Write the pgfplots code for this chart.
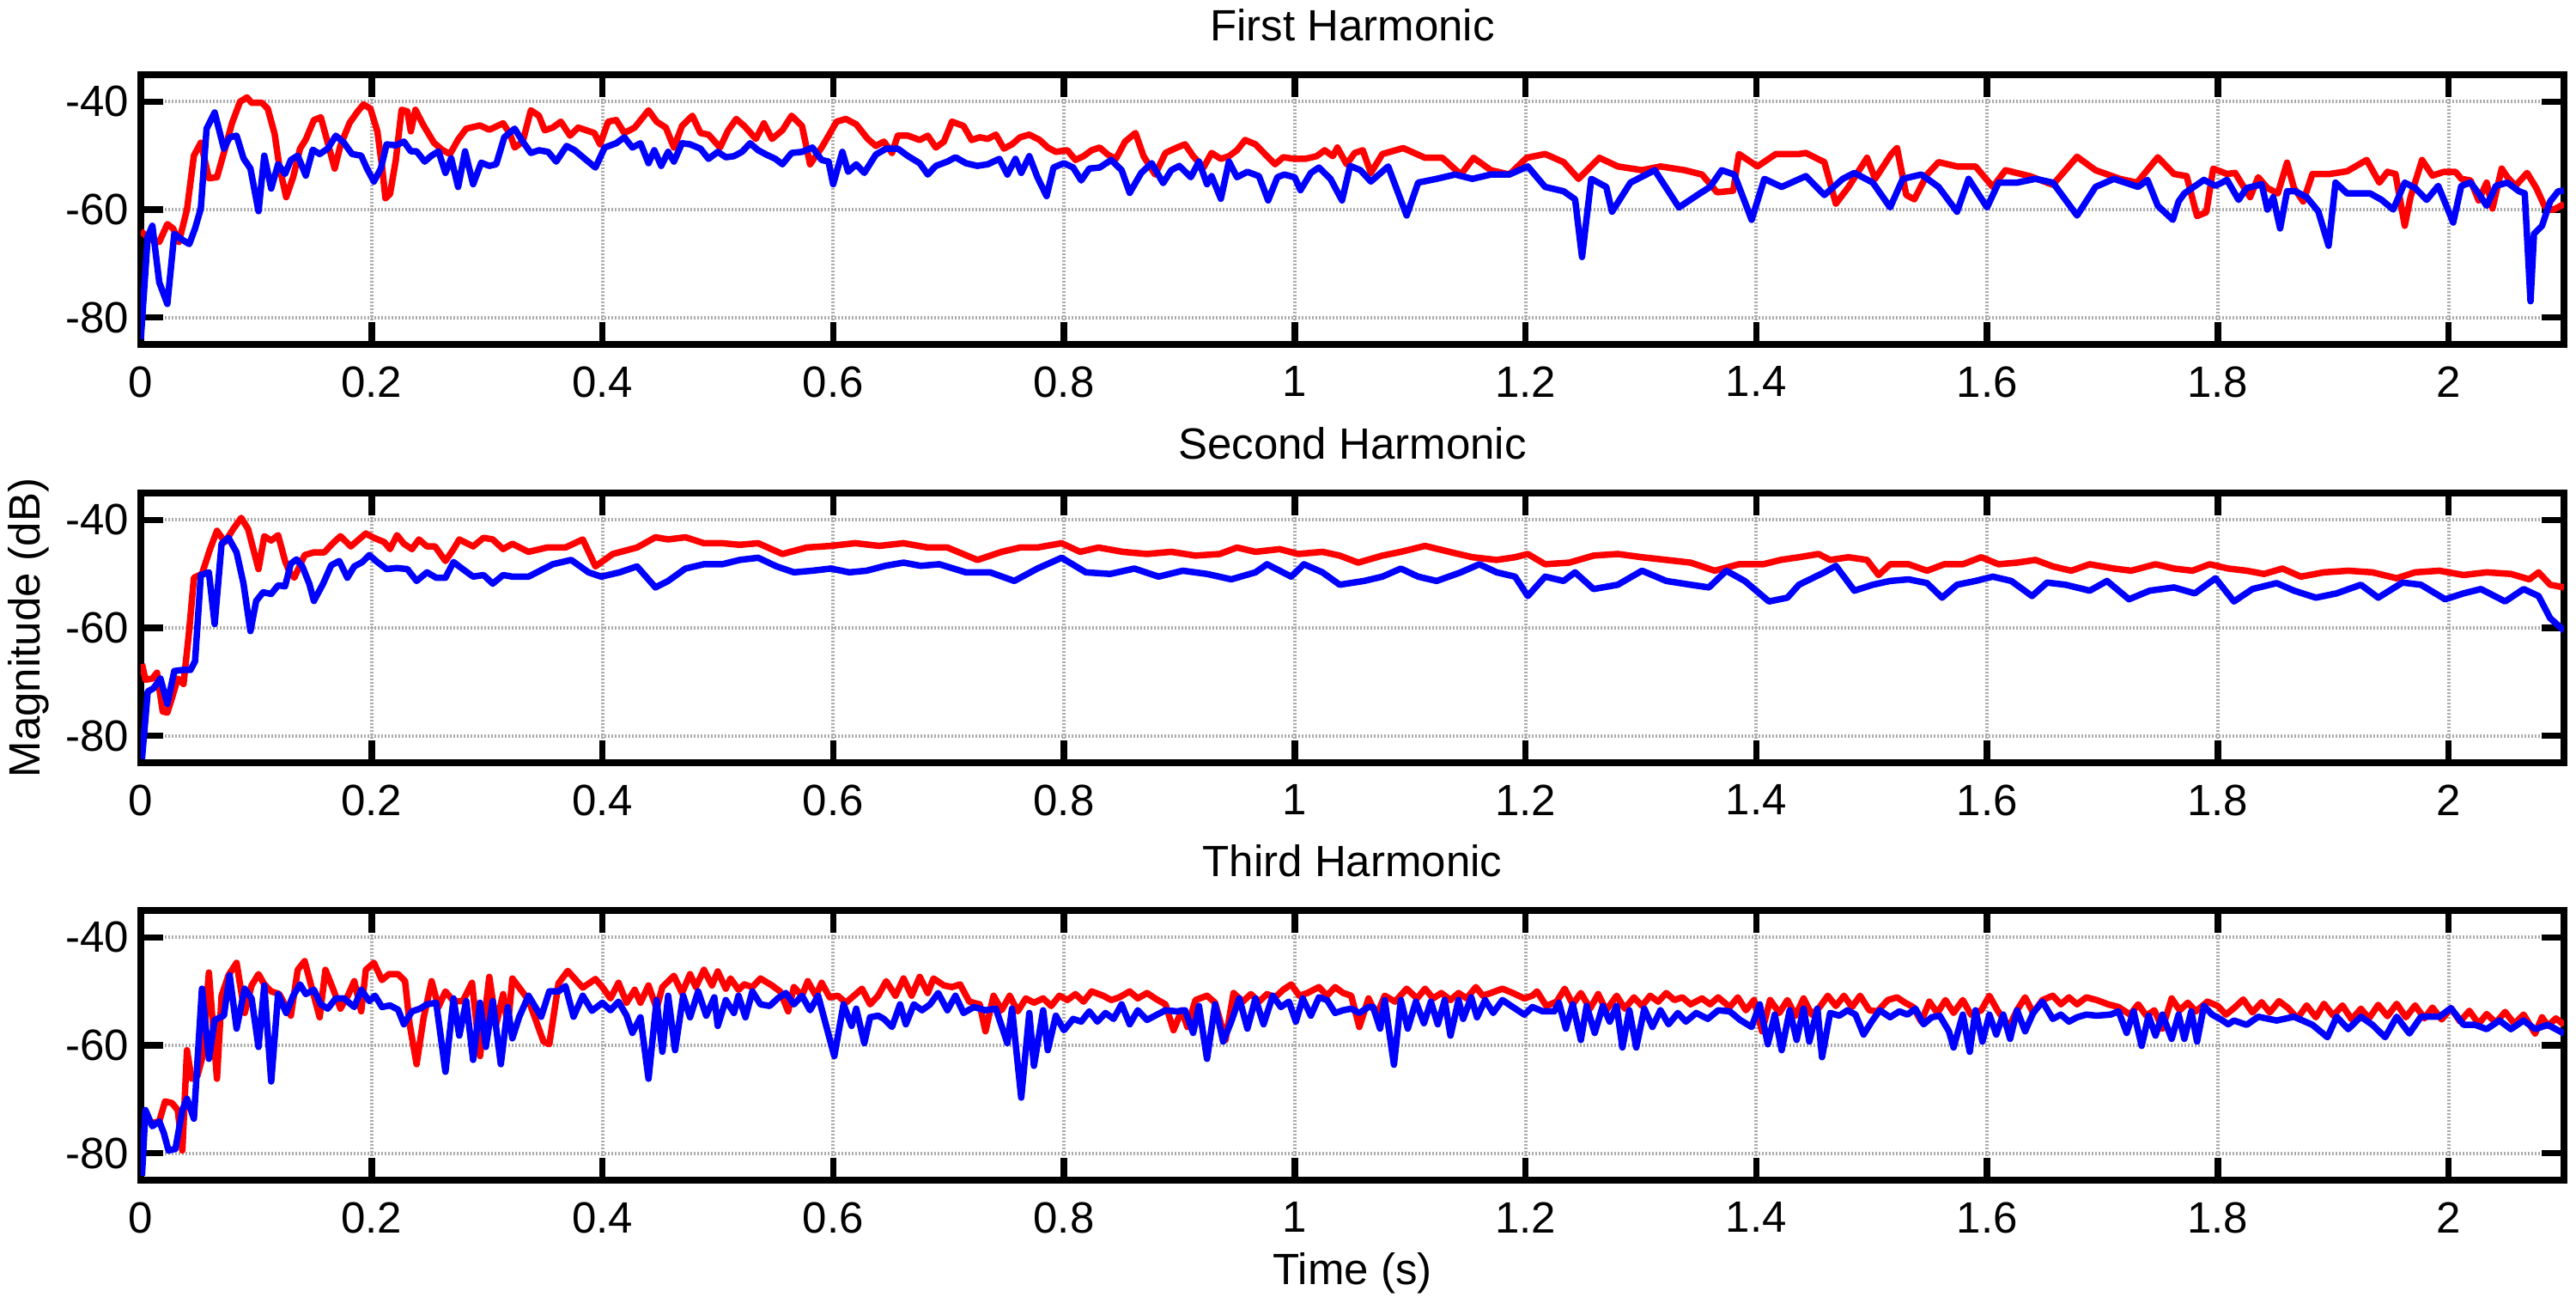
\documentclass[border=0pt]{standalone}
\usepackage{pgfplots}
\pgfplotsset{compat=1.18}
\usepackage{fontspec}
\setmainfont{Liberation Sans}
\definecolor{mred}{RGB}{255,0,0}
\definecolor{mblue}{RGB}{0,0,255}
\pgfplotsset{
  hstyle/.style={
    scale only axis, width=564.4pt, height=62.8pt,
    xmin=0, xmax=2.1, ymin=-85, ymax=-35,
    xtick={0,0.2,0.4,0.6,0.8,1,1.2,1.4,1.6,1.8,2},
    xticklabels={0,0.2,0.4,0.6,0.8,1,1.2,1.4,1.6,1.8,2},
    ytick={-80,-60,-40}, yticklabels={-80,-60,-40},
    tick align=inside, xtick pos=both, ytick pos=both,
    major tick length=5.2pt,
    every tick/.append style={black, line width=1.5pt},
    axis line style={black, line width=1.6pt},
    grid=major,
    major grid style={draw=gray!65, line width=0.8pt, dash pattern=on 0.35pt off 0.45pt},
    tick label style={font=\fontsize{10.2}{12}\selectfont},
    xticklabel style={yshift=-1.6pt},
    yticklabel style={xshift=0.8pt},
    every axis title shift=0pt,
    title style={at={(axis description cs:0.5,1.1258)}, anchor=base, font=\fontsize{10.2}{12}\selectfont},
    label style={font=\fontsize{10.2}{12}\selectfont},
    every axis plot/.append style={line width=1.5pt, line join=round},
  }
}
\begin{document}
\begin{tikzpicture}
\useasboundingbox (0,0) rectangle (600pt,303.2pt);
% ---------------- Panel 1
\begin{axis}[hstyle, at={(32.8pt,223pt)}, anchor=south west, title={First Harmonic}]
\addplot[mred] coordinates {(0,-64)(0.008,-65.5)(0.016,-66)(0.023,-62.7)(0.028,-63.5)(0.033,-66)(0.04,-60)(0.046,-50)(0.052,-47.6)(0.059,-54.2)(0.066,-54)(0.073,-48.7)(0.079,-44)(0.086,-40)(0.092,-39.2)(0.096,-40.2)(0.105,-40.2)(0.11,-41.3)(0.116,-46)(0.12,-51.9)(0.126,-57.7)(0.132,-54)(0.138,-48.7)(0.143,-47)(0.15,-43.4)(0.156,-42.9)(0.162,-47.6)(0.168,-52.4)(0.173,-48.1)(0.181,-43.9)(0.188,-41.8)(0.193,-40.5)(0.199,-41.3)(0.205,-45.5)(0.209,-51.9)(0.212,-57.9)(0.216,-57.1)(0.221,-50.8)(0.226,-41.5)(0.231,-41.8)(0.234,-45.5)(0.238,-41.5)(0.245,-44.4)(0.254,-47.6)(0.261,-48.9)(0.268,-49.7)(0.275,-47)(0.282,-45)(0.288,-44.7)(0.294,-44.4)(0.302,-45.2)(0.308,-44.6)(0.314,-44)(0.32,-46)(0.324,-48.5)(0.331,-47.4)(0.338,-41.6)(0.345,-42.6)(0.35,-45.3)(0.357,-44.8)(0.364,-43.7)(0.372,-46.3)(0.379,-44.8)(0.386,-45.3)(0.393,-45.8)(0.398,-47.9)(0.405,-43.7)(0.412,-43.4)(0.419,-45.8)(0.428,-44.8)(0.44,-41.6)(0.447,-43.7)(0.455,-44.8)(0.462,-48.5)(0.469,-44.5)(0.478,-42.6)(0.485,-45.8)(0.492,-46.1)(0.502,-48.5)(0.509,-45.3)(0.516,-43.2)(0.523,-44.5)(0.533,-46.9)(0.54,-44)(0.547,-46.9)(0.556,-45.3)(0.564,-42.6)(0.573,-44.5)(0.58,-51.6)(0.59,-48.5)(0.596,-46.3)(0.603,-43.7)(0.611,-43.2)(0.62,-44.2)(0.63,-46.9)(0.637,-48.2)(0.644,-47.4)(0.651,-49.5)(0.656,-46.3)(0.665,-46.3)(0.675,-47.1)(0.682,-46.3)(0.689,-48.5)(0.696,-47.4)(0.703,-43.7)(0.713,-44.5)(0.72,-47.1)(0.727,-46.6)(0.734,-46.9)(0.741,-46.1)(0.748,-48.7)(0.755,-47.9)(0.762,-46.6)(0.77,-46.1)(0.779,-47.1)(0.786,-48.5)(0.793,-49.3)(0.803,-49)(0.81,-50.8)(0.817,-50.1)(0.824,-49)(0.831,-48.5)(0.838,-49.8)(0.845,-50.6)(0.853,-47.4)(0.862,-45.8)(0.869,-50.1)(0.879,-53.5)(0.888,-49.5)(0.898,-48.5)(0.905,-47.9)(0.912,-50.1)(0.921,-52.2)(0.928,-49.5)(0.936,-50.6)(0.943,-50.1)(0.95,-49)(0.957,-47.1)(0.966,-47.9)(0.976,-50.1)(0.983,-51.6)(0.99,-50.3)(1,-50.6)(1.009,-50.6)(1.019,-50.1)(1.026,-49)(1.033,-50.1)(1.037,-48.5)(1.045,-51.6)(1.052,-49.5)(1.059,-49)(1.066,-53.2)(1.076,-49.7)(1.094,-48.6)(1.113,-50.4)(1.128,-50.4)(1.144,-53.5)(1.155,-50.4)(1.17,-52.7)(1.186,-53.5)(1.201,-50.4)(1.217,-49.7)(1.233,-51.2)(1.246,-54.3)(1.264,-50.4)(1.28,-52)(1.301,-52.7)(1.317,-52)(1.338,-52.7)(1.353,-53.5)(1.366,-56.8)(1.38,-56.5)(1.385,-49.7)(1.401,-52)(1.417,-49.7)(1.437,-49.7)(1.443,-49.5)(1.459,-51.2)(1.469,-58.9)(1.48,-55.8)(1.496,-50.4)(1.503,-54.3)(1.517,-49.7)(1.522,-48.6)(1.53,-57.3)(1.537,-58.1)(1.548,-53.5)(1.558,-51.2)(1.574,-52)(1.59,-52)(1.605,-55.8)(1.616,-52.7)(1.637,-53.8)(1.657,-55.4)(1.678,-50.2)(1.694,-52.7)(1.715,-54.3)(1.73,-55)(1.748,-50.3)(1.762,-53.4)(1.773,-53.8)(1.782,-61.2)(1.79,-60.5)(1.796,-52.4)(1.808,-53.4)(1.815,-53.2)(1.823,-56)(1.828,-57.7)(1.835,-54)(1.843,-56)(1.852,-57)(1.86,-51.3)(1.866,-56)(1.874,-58.5)(1.882,-53.4)(1.897,-53.4)(1.912,-52.9)(1.929,-50.8)(1.94,-55)(1.947,-53)(1.954,-53.4)(1.962,-63)(1.967,-57.7)(1.977,-50.8)(1.986,-53.7)(1.996,-53)(2.006,-53)(2.011,-54.3)(2.019,-54.6)(2.026,-58.3)(2.033,-55)(2.038,-59.8)(2.046,-52.4)(2.051,-54)(2.058,-55.6)(2.068,-53.2)(2.076,-56)(2.083,-59.3)(2.09,-60.1)(2.1,-59)};
\addplot[mblue] coordinates {(0,-84)(0.006,-65)(0.01,-63)(0.016,-73.5)(0.023,-77.5)(0.029,-64.5)(0.036,-65.6)(0.042,-66.4)(0.047,-63.5)(0.052,-59.8)(0.057,-45)(0.064,-42)(0.072,-48.7)(0.077,-46.6)(0.083,-46.3)(0.089,-50.5)(0.095,-52.4)(0.102,-60.3)(0.107,-50)(0.113,-56.1)(0.119,-51.6)(0.125,-53.4)(0.13,-50.8)(0.136,-50)(0.143,-53.7)(0.149,-48.9)(0.155,-49.7)(0.162,-48.7)(0.169,-46.3)(0.176,-47.6)(0.183,-49.7)(0.191,-50)(0.196,-52.4)(0.202,-54.8)(0.208,-52.4)(0.213,-47.9)(0.221,-48.1)(0.228,-47.4)(0.234,-49.2)(0.239,-49.2)(0.246,-51.1)(0.252,-50)(0.258,-49.2)(0.264,-53.2)(0.269,-50.5)(0.275,-55.8)(0.281,-49.2)(0.288,-55.3)(0.295,-51.3)(0.302,-51.9)(0.308,-51.6)(0.315,-46.6)(0.324,-45)(0.331,-47.4)(0.338,-49.5)(0.345,-49)(0.353,-49.3)(0.36,-51.1)(0.369,-48.2)(0.376,-49)(0.386,-50.8)(0.394,-52.2)(0.402,-48.5)(0.412,-47.7)(0.419,-46.6)(0.426,-48.5)(0.433,-47.7)(0.44,-51.4)(0.445,-49)(0.451,-51.9)(0.457,-49.3)(0.462,-51.1)(0.469,-47.7)(0.476,-47.9)(0.485,-48.7)(0.492,-50.6)(0.5,-49.3)(0.507,-50.3)(0.514,-50.1)(0.521,-49.3)(0.528,-47.7)(0.535,-49)(0.542,-49.8)(0.55,-50.6)(0.556,-51.6)(0.564,-49.5)(0.573,-49.3)(0.582,-48.5)(0.59,-50.8)(0.596,-51.1)(0.6,-55.3)(0.608,-49.3)(0.613,-53)(0.62,-51.6)(0.627,-53.2)(0.637,-49.8)(0.646,-48.7)(0.656,-48.7)(0.665,-50.1)(0.675,-51.4)(0.682,-53.5)(0.689,-51.9)(0.699,-51.1)(0.706,-50.3)(0.715,-51.4)(0.725,-51.9)(0.734,-51.6)(0.744,-50.6)(0.751,-53.5)(0.758,-50.6)(0.763,-53.2)(0.77,-50.1)(0.777,-54)(0.785,-57.5)(0.791,-52.2)(0.8,-51.4)(0.808,-52.2)(0.815,-54.6)(0.822,-52.4)(0.831,-52.2)(0.841,-50.8)(0.85,-52.7)(0.857,-56.9)(0.867,-53.2)(0.876,-51.4)(0.886,-55.1)(0.893,-52.7)(0.9,-51.9)(0.91,-54)(0.917,-51.1)(0.924,-55.3)(0.928,-53.8)(0.936,-58)(0.943,-51.1)(0.95,-54)(0.959,-53)(0.969,-53.8)(0.977,-58.3)(0.985,-54)(0.991,-53.5)(1,-54)(1.005,-56.4)(1.014,-53.2)(1.021,-52.2)(1.031,-54.3)(1.041,-58.3)(1.048,-51.9)(1.057,-52.7)(1.066,-54.8)(1.081,-52)(1.097,-61.1)(1.107,-55)(1.123,-54.3)(1.139,-53.5)(1.154,-54.3)(1.17,-53.5)(1.186,-53.5)(1.202,-52)(1.217,-55.8)(1.233,-56.6)(1.243,-58.1)(1.249,-68.8)(1.257,-54.3)(1.27,-55.8)(1.275,-60.4)(1.291,-55)(1.312,-52.7)(1.333,-59.6)(1.349,-57.3)(1.36,-55.8)(1.37,-52.7)(1.381,-53.5)(1.396,-61.9)(1.407,-54.3)(1.422,-55.8)(1.443,-53.8)(1.459,-57.3)(1.475,-54.3)(1.485,-53.2)(1.501,-55)(1.516,-59.6)(1.527,-54.3)(1.543,-53.5)(1.558,-55.8)(1.574,-60.4)(1.584,-54.3)(1.6,-59.6)(1.61,-55)(1.626,-55)(1.642,-54.3)(1.657,-55)(1.678,-61.1)(1.694,-55.8)(1.71,-54.3)(1.731,-55.8)(1.739,-54.5)(1.748,-59.3)(1.761,-61.9)(1.766,-58.5)(1.771,-57)(1.788,-54.5)(1.798,-55.6)(1.808,-54.5)(1.818,-58.2)(1.825,-56)(1.833,-55.6)(1.838,-55.3)(1.843,-60)(1.848,-57.7)(1.854,-63.5)(1.86,-56.6)(1.867,-56.6)(1.877,-57.7)(1.887,-60.3)(1.896,-66.7)(1.902,-55)(1.912,-57)(1.922,-57)(1.932,-57)(1.942,-58.2)(1.952,-60)(1.962,-55)(1.971,-56)(1.981,-58.2)(1.991,-55.6)(2.004,-62.4)(2.011,-55.6)(2.019,-55)(2.026,-57)(2.033,-59.3)(2.041,-55.6)(2.051,-55)(2.061,-56.6)(2.066,-57)(2.071,-77)(2.074,-64.5)(2.081,-63)(2.088,-58.5)(2.095,-56.6)(2.1,-56.5)};
\end{axis}
% ---------------- Panel 2
\begin{axis}[hstyle, at={(32.8pt,125.6pt)}, anchor=south west, title={Second Harmonic},
  ylabel={Magnitude (dB)}, ylabel style={at={(axis description cs:-0.04164,0.5)}, anchor=base}]
\addplot[mred] coordinates {(0.001,-66.7)(0.004,-69.6)(0.01,-69.4)(0.014,-68.3)(0.019,-75.5)(0.023,-75.7)(0.027,-73)(0.032,-69.4)(0.037,-70.4)(0.042,-60.3)(0.046,-50.7)(0.053,-50)(0.06,-45.4)(0.066,-42)(0.073,-44.1)(0.08,-41.7)(0.087,-39.6)(0.093,-41.7)(0.102,-49.1)(0.107,-43)(0.113,-43.8)(0.119,-42.8)(0.125,-47.6)(0.129,-49.7)(0.133,-50.7)(0.142,-46.5)(0.15,-46)(0.159,-46)(0.166,-44.4)(0.173,-43)(0.182,-44.9)(0.189,-43.6)(0.195,-42.5)(0.202,-43.3)(0.211,-44.1)(0.216,-45.4)(0.222,-42.8)(0.228,-44.4)(0.235,-45.4)(0.241,-43.6)(0.248,-44.9)(0.255,-44.9)(0.264,-47.6)(0.271,-45.4)(0.276,-43.6)(0.288,-44.9)(0.297,-43.3)(0.305,-43.6)(0.314,-45.4)(0.322,-44.4)(0.336,-45.9)(0.352,-45.1)(0.368,-45.1)(0.383,-43.6)(0.394,-48.6)(0.409,-46.3)(0.43,-45.1)(0.446,-43.2)(0.457,-43.6)(0.472,-43.2)(0.488,-44.3)(0.504,-44.3)(0.519,-44.6)(0.535,-44.3)(0.556,-46.3)(0.577,-45.1)(0.598,-44.8)(0.619,-44.3)(0.64,-44.8)(0.661,-44.3)(0.682,-45.1)(0.699,-45.1)(0.725,-47.4)(0.746,-45.9)(0.762,-45.1)(0.777,-45.1)(0.798,-44.3)(0.814,-45.9)(0.83,-45.1)(0.851,-45.9)(0.872,-46.3)(0.893,-45.9)(0.914,-46.6)(0.935,-46.3)(0.95,-45.1)(0.966,-45.9)(0.987,-45.4)(1.003,-46.3)(1.024,-45.9)(1.039,-46.6)(1.055,-47.9)(1.076,-46.6)(1.092,-45.9)(1.113,-44.8)(1.134,-45.9)(1.154,-46.9)(1.175,-47.4)(1.191,-46.9)(1.202,-46.3)(1.217,-48.2)(1.238,-47.9)(1.259,-46.6)(1.28,-46.3)(1.301,-46.9)(1.322,-47.4)(1.343,-47.9)(1.364,-49.4)(1.385,-48.2)(1.406,-48.2)(1.421,-47.4)(1.437,-46.9)(1.454,-46.3)(1.464,-47.4)(1.48,-46.9)(1.496,-47.4)(1.506,-50.2)(1.516,-48.2)(1.532,-48.2)(1.548,-49.4)(1.563,-48.2)(1.579,-48.2)(1.595,-46.9)(1.61,-48.2)(1.626,-47.9)(1.642,-47.4)(1.657,-48.6)(1.673,-49.4)(1.689,-48.2)(1.71,-49)(1.725,-49.4)(1.746,-48.2)(1.762,-49)(1.778,-49.4)(1.793,-48.2)(1.809,-49)(1.825,-49.4)(1.84,-50)(1.856,-49)(1.872,-50.5)(1.892,-49.7)(1.913,-49.4)(1.934,-49.7)(1.955,-50.8)(1.971,-49.7)(1.992,-49.4)(2.013,-50.2)(2.033,-49.7)(2.054,-50)(2.07,-51)(2.078,-49.7)(2.088,-52)(2.1,-52.5)};
\addplot[mblue] coordinates {(0.001,-84.3)(0.006,-71.8)(0.011,-71.2)(0.017,-69.4)(0.023,-74.1)(0.029,-68)(0.036,-67.8)(0.043,-67.8)(0.047,-66.2)(0.052,-50.2)(0.059,-49.7)(0.064,-59.3)(0.07,-44.4)(0.076,-43.3)(0.083,-46)(0.089,-51.8)(0.095,-60.6)(0.1,-55)(0.106,-53.4)(0.113,-53.7)(0.119,-52.1)(0.125,-52.3)(0.13,-48.1)(0.135,-47.3)(0.14,-48.6)(0.146,-51.8)(0.15,-55)(0.158,-51.8)(0.165,-48.4)(0.172,-47.6)(0.179,-50.7)(0.185,-48.6)(0.192,-47.8)(0.198,-46.5)(0.205,-47.8)(0.213,-49.1)(0.222,-48.9)(0.231,-49.1)(0.239,-51.3)(0.248,-49.7)(0.256,-50.7)(0.264,-50.7)(0.271,-47.8)(0.279,-49.1)(0.288,-50.5)(0.297,-50.2)(0.305,-51.8)(0.314,-50.2)(0.322,-50.5)(0.336,-50.5)(0.357,-48.2)(0.373,-47.4)(0.388,-49.7)(0.399,-50.5)(0.415,-49.7)(0.43,-48.6)(0.446,-52.5)(0.457,-51.3)(0.472,-49)(0.488,-48.2)(0.504,-48.2)(0.519,-47.4)(0.535,-47)(0.551,-48.6)(0.566,-49.7)(0.582,-49.4)(0.598,-49)(0.614,-49.7)(0.629,-49.4)(0.645,-48.5)(0.661,-47.9)(0.676,-48.5)(0.692,-48.2)(0.715,-49.7)(0.736,-49.7)(0.757,-51.3)(0.777,-49)(0.798,-47)(0.819,-49.7)(0.84,-50)(0.861,-49)(0.882,-50.5)(0.903,-49.4)(0.924,-50)(0.945,-51)(0.966,-49.7)(0.976,-48.2)(0.997,-50.5)(1.008,-48.2)(1.024,-49.7)(1.039,-52)(1.06,-51.3)(1.076,-50.5)(1.092,-49)(1.107,-50.5)(1.123,-51.3)(1.144,-49.7)(1.16,-48.2)(1.175,-49.7)(1.191,-50.5)(1.202,-54.1)(1.217,-50.5)(1.233,-51.3)(1.243,-49.7)(1.259,-52.8)(1.28,-52)(1.301,-49.4)(1.322,-51.3)(1.343,-52)(1.359,-52.5)(1.374,-49.4)(1.39,-51.3)(1.411,-55.1)(1.427,-54.4)(1.437,-52)(1.459,-49.7)(1.469,-48.5)(1.485,-53.1)(1.501,-52)(1.516,-51.3)(1.532,-51)(1.548,-51.7)(1.561,-54.4)(1.574,-52)(1.59,-51.3)(1.605,-50.5)(1.621,-51.3)(1.639,-54.1)(1.652,-51.6)(1.668,-52)(1.689,-53.1)(1.704,-51.3)(1.723,-54.7)(1.741,-53.1)(1.762,-52.5)(1.78,-53.6)(1.798,-50.8)(1.814,-55.1)(1.83,-52.8)(1.851,-51.7)(1.866,-53.1)(1.885,-54.4)(1.903,-53.6)(1.924,-52)(1.939,-54.4)(1.96,-51.6)(1.976,-52)(1.997,-54.7)(2.013,-53.6)(2.028,-52.8)(2.049,-55.1)(2.065,-52.8)(2.078,-54.1)(2.088,-58.2)(2.1,-60.5)};
\end{axis}
% ---------------- Panel 3
\begin{axis}[hstyle, at={(32.8pt,28.4pt)}, anchor=south west, title={Third Harmonic},
  xlabel={Time (s)}, xlabel style={at={(axis description cs:0.5,-0.3854)}, anchor=base}]
\addplot[mred] coordinates {(0.003,-73.5)(0.01,-74.4)(0.016,-74.1)(0.021,-70.4)(0.027,-70.7)(0.032,-72)(0.036,-79.5)(0.04,-60.9)(0.044,-66.2)(0.049,-65.7)(0.053,-62.5)(0.059,-46.5)(0.066,-66.2)(0.07,-50.8)(0.076,-47)(0.083,-44.7)(0.09,-54)(0.096,-48.9)(0.102,-46.8)(0.107,-48.7)(0.113,-50)(0.12,-50.5)(0.13,-54.5)(0.136,-46)(0.142,-44.4)(0.148,-49.2)(0.155,-54.8)(0.16,-46)(0.166,-49.2)(0.173,-53.2)(0.179,-51)(0.185,-48.1)(0.191,-53.7)(0.195,-46)(0.202,-44.7)(0.209,-47.9)(0.215,-46.8)(0.223,-46.8)(0.229,-48.1)(0.233,-56.1)(0.239,-63.5)(0.245,-55)(0.252,-48.1)(0.258,-52.9)(0.264,-50)(0.271,-51.8)(0.279,-51.8)(0.287,-48.4)(0.294,-62)(0.302,-47.3)(0.308,-56.1)(0.314,-50.5)(0.318,-56.6)(0.322,-47.6)(0.336,-51.6)(0.349,-59.3)(0.354,-59.8)(0.362,-48.5)(0.37,-46.2)(0.383,-49.3)(0.394,-47.7)(0.4,-49.2)(0.407,-51.3)(0.414,-48.4)(0.421,-52.1)(0.428,-49.7)(0.433,-52.1)(0.44,-48.9)(0.447,-53.2)(0.452,-49.2)(0.462,-47.1)(0.469,-50.3)(0.476,-46.8)(0.481,-49.2)(0.488,-46)(0.495,-48.9)(0.5,-46.3)(0.507,-49.5)(0.511,-47.6)(0.518,-49.7)(0.523,-48.7)(0.53,-49.2)(0.537,-47.6)(0.547,-48.9)(0.554,-50)(0.561,-53.7)(0.566,-49.2)(0.573,-50.8)(0.578,-48.1)(0.585,-50.8)(0.59,-48.4)(0.597,-51.1)(0.604,-50.8)(0.611,-52.1)(0.618,-50.8)(0.625,-49.5)(0.632,-52.4)(0.639,-50.8)(0.646,-48.1)(0.654,-50.8)(0.661,-47.6)(0.668,-50.8)(0.675,-47.3)(0.682,-50.3)(0.687,-47.6)(0.696,-48.9)(0.703,-49.2)(0.71,-48.7)(0.718,-51.9)(0.727,-52.4)(0.732,-57.4)(0.739,-50.8)(0.746,-53.5)(0.753,-50.8)(0.76,-53.7)(0.767,-51.3)(0.774,-52.1)(0.782,-51.3)(0.789,-52.7)(0.796,-50.8)(0.803,-51.6)(0.81,-50.5)(0.817,-51.9)(0.824,-50)(0.834,-50.8)(0.841,-51.6)(0.848,-51.1)(0.857,-50)(0.864,-51.3)(0.872,-50.3)(0.879,-51.3)(0.888,-52.4)(0.895,-57.2)(0.902,-53.5)(0.907,-56.6)(0.914,-51.6)(0.924,-50.8)(0.931,-52.1)(0.94,-59)(0.947,-50.3)(0.955,-51.9)(0.962,-50.5)(0.969,-51.9)(0.976,-50.5)(0.983,-51.1)(0.99,-49.7)(0.997,-48.7)(1.004,-50.8)(1.011,-50.3)(1.021,-49.2)(1.028,-50.8)(1.035,-49.2)(1.042,-50.3)(1.049,-50.8)(1.056,-56.6)(1.064,-51.3)(1.071,-54.5)(1.078,-50.8)(1.087,-51.9)(1.097,-49.5)(1.106,-51.3)(1.113,-49.5)(1.12,-51.3)(1.127,-50.3)(1.135,-51.6)(1.142,-50.3)(1.149,-51.3)(1.157,-49.2)(1.163,-50.8)(1.17,-50.3)(1.18,-49.5)(1.189,-50.3)(1.199,-51.3)(1.206,-50.8)(1.21,-50)(1.218,-52.7)(1.227,-51.9)(1.234,-49.5)(1.241,-52.4)(1.248,-50.3)(1.256,-53.2)(1.263,-50.5)(1.27,-53.5)(1.279,-50.8)(1.286,-53.2)(1.294,-51.1)(1.301,-52.7)(1.308,-50.8)(1.315,-51.9)(1.322,-50.3)(1.329,-51.6)(1.336,-51.1)(1.343,-52.4)(1.353,-51.3)(1.36,-52.4)(1.367,-51.1)(1.377,-52.9)(1.384,-51.1)(1.391,-53.5)(1.398,-51.6)(1.405,-57.4)(1.412,-51.6)(1.42,-54)(1.427,-51.6)(1.434,-54.5)(1.441,-51.3)(1.448,-54.3)(1.455,-52.9)(1.462,-50.8)(1.469,-52.7)(1.476,-50.8)(1.483,-52.9)(1.49,-50.8)(1.498,-53.5)(1.505,-53.7)(1.514,-51.6)(1.522,-51.1)(1.529,-52.1)(1.536,-52.9)(1.543,-55.6)(1.55,-51.9)(1.557,-54)(1.564,-51.6)(1.571,-54)(1.579,-51.6)(1.586,-54.3)(1.595,-53.5)(1.602,-50.8)(1.609,-53.5)(1.619,-56.6)(1.626,-53.5)(1.633,-51.1)(1.64,-54)(1.648,-51.6)(1.657,-50.8)(1.664,-52.4)(1.671,-51.1)(1.678,-52.4)(1.686,-51.1)(1.695,-51.6)(1.705,-52.4)(1.714,-52.9)(1.724,-54.3)(1.731,-52.4)(1.738,-54.5)(1.745,-53.5)(1.752,-56.9)(1.76,-51.3)(1.767,-53.5)(1.774,-52.1)(1.781,-53.7)(1.791,-51.9)(1.8,-52.7)(1.807,-54.3)(1.814,-53.1)(1.822,-51.5)(1.83,-53.9)(1.838,-52)(1.845,-53.9)(1.853,-51.8)(1.861,-53.1)(1.869,-55)(1.877,-52.6)(1.885,-54.8)(1.892,-52.3)(1.9,-54.5)(1.908,-52.6)(1.916,-55.2)(1.924,-53.2)(1.931,-55)(1.939,-52.5)(1.947,-54.6)(1.955,-52.3)(1.963,-54.8)(1.971,-52.6)(1.979,-55)(1.986,-53)(1.994,-55.2)(2.002,-53.1)(2.01,-55.6)(2.018,-53.6)(2.026,-56)(2.033,-54.2)(2.041,-55.8)(2.049,-53.8)(2.057,-56)(2.065,-54.3)(2.075,-57.8)(2.081,-54.8)(2.086,-56.4)(2.093,-55)(2.1,-56.2)};
\addplot[mblue] coordinates {(0.001,-84.2)(0.004,-72)(0.01,-75)(0.016,-74.1)(0.02,-76.3)(0.024,-79.5)(0.03,-79.2)(0.036,-72)(0.04,-69.9)(0.046,-73.6)(0.053,-49.5)(0.059,-62.5)(0.064,-55.3)(0.072,-54.5)(0.077,-47)(0.083,-56.9)(0.09,-49.5)(0.096,-51.3)(0.102,-60.3)(0.107,-48.9)(0.113,-66.7)(0.119,-50.5)(0.126,-54)(0.132,-50.8)(0.138,-48.7)(0.143,-50.5)(0.15,-49.7)(0.156,-52.4)(0.162,-53.2)(0.169,-51.3)(0.176,-51.3)(0.185,-52.9)(0.191,-49.7)(0.198,-51.8)(0.203,-50.8)(0.209,-52.9)(0.216,-52.6)(0.223,-53.4)(0.228,-56.1)(0.235,-53.7)(0.242,-53.2)(0.248,-52.4)(0.256,-52.1)(0.264,-64.9)(0.271,-51.3)(0.276,-58.2)(0.282,-51.8)(0.288,-62.7)(0.294,-52.1)(0.299,-60.3)(0.305,-51.8)(0.312,-63.5)(0.318,-52.9)(0.322,-58.7)(0.328,-54.7)(0.336,-50.8)(0.347,-54.7)(0.354,-50)(0.362,-50)(0.368,-49)(0.375,-54.7)(0.383,-50.8)(0.391,-53.6)(0.4,-52.1)(0.407,-53.5)(0.414,-51.9)(0.421,-54.5)(0.426,-57.7)(0.433,-54.8)(0.44,-66.2)(0.447,-51.6)(0.452,-61.2)(0.457,-50.8)(0.463,-60.9)(0.47,-50.8)(0.476,-54.8)(0.483,-50)(0.49,-54.5)(0.497,-51.1)(0.5,-56.4)(0.507,-51.6)(0.514,-54)(0.518,-50.8)(0.524,-54.8)(0.53,-50)(0.537,-52.4)(0.545,-52.7)(0.552,-51.3)(0.559,-50.3)(0.566,-52.4)(0.573,-50.8)(0.58,-53.5)(0.587,-50.8)(0.594,-56.4)(0.601,-62)(0.609,-52.4)(0.616,-56.4)(0.62,-53.2)(0.627,-59.6)(0.632,-54.8)(0.639,-54.5)(0.644,-55.1)(0.651,-56.6)(0.658,-52.4)(0.663,-56.1)(0.67,-52.4)(0.677,-53.5)(0.684,-52.4)(0.691,-50.3)(0.699,-53.5)(0.706,-50.8)(0.713,-54)(0.722,-52.9)(0.732,-53.5)(0.741,-53.2)(0.751,-59.6)(0.755,-53.2)(0.763,-69.7)(0.77,-54)(0.774,-63.8)(0.782,-53.5)(0.786,-60.9)(0.793,-54.5)(0.8,-57.2)(0.808,-55.1)(0.815,-55.6)(0.822,-53.7)(0.829,-55.6)(0.836,-54)(0.843,-55.1)(0.85,-52.4)(0.857,-56.1)(0.864,-53.5)(0.872,-55.3)(0.879,-54.5)(0.888,-53.5)(0.898,-53.7)(0.905,-53.5)(0.912,-57.7)(0.917,-52.7)(0.924,-62.5)(0.931,-52.4)(0.938,-59.3)(0.945,-55.6)(0.952,-51.3)(0.959,-56.9)(0.966,-51.3)(0.973,-56.1)(0.981,-50.8)(0.988,-52.9)(0.995,-51.9)(1.001,-55.6)(1.007,-51.3)(1.014,-54.5)(1.021,-51.1)(1.028,-51.6)(1.035,-54)(1.042,-53.5)(1.049,-53.2)(1.056,-54)(1.064,-52.9)(1.068,-52.9)(1.074,-56.9)(1.078,-51.6)(1.086,-63.6)(1.092,-51.6)(1.098,-56.9)(1.105,-51.9)(1.112,-55.9)(1.118,-51.9)(1.124,-56.1)(1.13,-51.6)(1.135,-58.2)(1.142,-51.6)(1.146,-55.1)(1.153,-51.1)(1.158,-54.8)(1.165,-51.6)(1.172,-54)(1.18,-51.6)(1.189,-52.9)(1.199,-54.3)(1.206,-52.9)(1.215,-53.7)(1.225,-53.7)(1.229,-52.1)(1.235,-56.9)(1.241,-52.4)(1.248,-59)(1.253,-52.7)(1.26,-57.7)(1.267,-52.7)(1.273,-55.6)(1.279,-52.7)(1.284,-60.4)(1.29,-53.5)(1.296,-60.4)(1.303,-53.2)(1.31,-56.6)(1.317,-53.5)(1.324,-56.1)(1.332,-54)(1.339,-55.6)(1.348,-54)(1.358,-55.1)(1.367,-53.5)(1.377,-53.7)(1.386,-55.3)(1.396,-56.6)(1.403,-52.4)(1.41,-59.8)(1.416,-54.3)(1.422,-60.9)(1.429,-53.5)(1.435,-59)(1.441,-53.2)(1.446,-59.3)(1.453,-53.2)(1.457,-62.2)(1.464,-54)(1.472,-54.5)(1.479,-53.5)(1.486,-54.3)(1.493,-58)(1.5,-55.6)(1.507,-53.5)(1.516,-54.8)(1.524,-53.7)(1.531,-54.3)(1.538,-53.2)(1.545,-56.1)(1.552,-54.8)(1.559,-54.5)(1.567,-57.4)(1.571,-60.4)(1.579,-54.3)(1.585,-61.2)(1.59,-53.5)(1.596,-59.3)(1.602,-54.3)(1.608,-58)(1.614,-54.3)(1.62,-58.8)(1.626,-53.5)(1.633,-57.4)(1.64,-54)(1.648,-51.9)(1.657,-55.1)(1.664,-54.3)(1.671,-55.6)(1.678,-54.8)(1.686,-54.3)(1.695,-54.5)(1.707,-54.3)(1.714,-53.7)(1.721,-57.7)(1.727,-53.7)(1.734,-60.1)(1.74,-54.5)(1.746,-58.2)(1.752,-54.3)(1.76,-58.8)(1.766,-54.3)(1.771,-58.8)(1.777,-53.7)(1.782,-59.3)(1.788,-52.7)(1.795,-54.3)(1.802,-55.1)(1.809,-56.1)(1.814,-55.4)(1.825,-56.2)(1.835,-54.7)(1.851,-55.4)(1.866,-54.7)(1.882,-56.2)(1.895,-58.5)(1.903,-54.7)(1.913,-57)(1.924,-54.7)(1.934,-56.2)(1.945,-58.5)(1.955,-54.7)(1.966,-57.8)(1.976,-54.7)(1.992,-54.7)(2.002,-53.1)(2.013,-56.2)(2.023,-56.2)(2.033,-57)(2.044,-55.4)(2.054,-57)(2.065,-55.4)(2.075,-57)(2.086,-56.2)(2.1,-57.8)};
\end{axis}
\end{tikzpicture}
\end{document}
